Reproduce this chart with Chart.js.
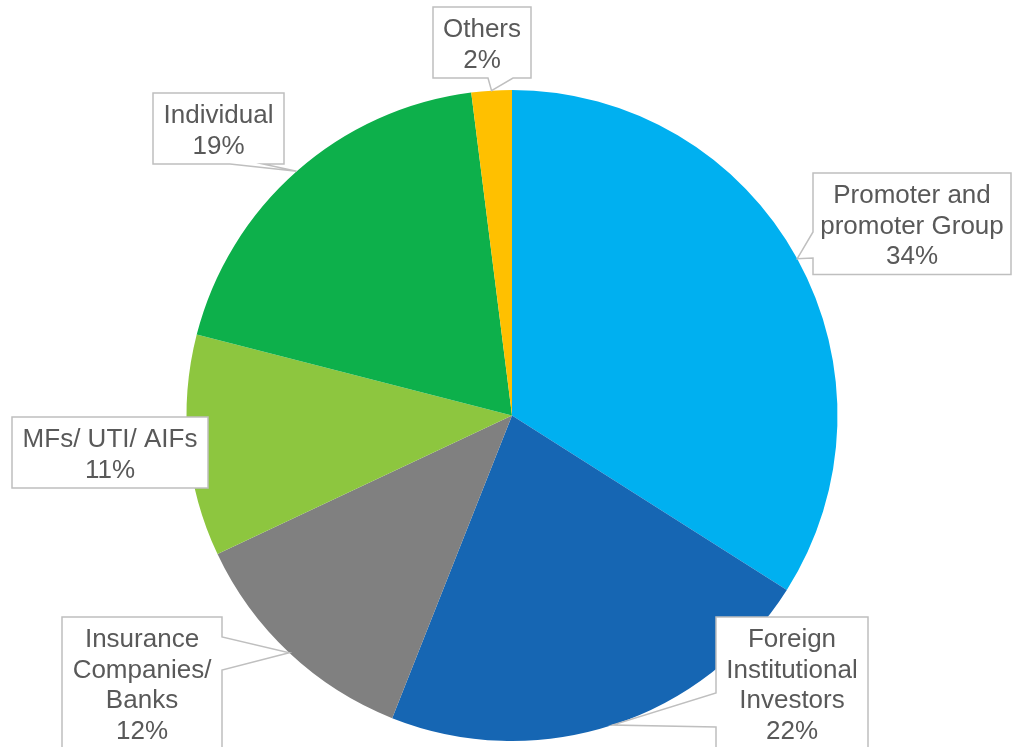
<!DOCTYPE html>
<html>
<head>
<meta charset="utf-8">
<script src="https://cdn.jsdelivr.net/npm/chart.js@4"></script>
<style>
  body { margin: 0; background: #fff; }
  #wrap { width: 1012px; height: 747px; position: relative; }
</style>
</head>
<body>
<div id="wrap"><canvas id="shareholdingChart"></canvas></div>
<script>
// shareholding pattern
const categories = ['Promoter and promoter Group', 'Foreign Institutional Investors', 'Insurance Companies/ Banks', 'MFs/ UTI/ AIFs', 'Individual', 'Others'];
const shares = [34, 22, 12, 11, 19, 2];
const sliceColours = ['#00B0F0', '#1666B3', '#808080', '#8DC63F', '#0DB04B', '#FFC000'];

// callout boxes: rect + which side the pointer leaves from and where its base sits
const callouts = [
  {x: 813, y: 173, w: 198, side: 'left',   base: [232, 258]},
  {x: 716, y: 617, w: 152, side: 'left',   base: [693, 727]},
  {x: 62,  y: 617, w: 160, side: 'right',  base: [637, 670]},
  {x: 12,  y: 417, w: 196, side: 'right',  base: [440, 460]},
  {x: 153, y: 93,  w: 131, side: 'bottom', base: [230, 263]},
  {x: 433, y: 7,   w: 98,  side: 'bottom', base: [488, 513]}
];

const FONT = '26px "Liberation Sans", Arial, sans-serif';
const LINE_H = 30.5;

function wrapText(ctx, text, maxW) {
  const words = text.split(' ');
  const lines = [];
  let cur = '';
  words.forEach(w => {
    const t = cur ? cur + ' ' + w : w;
    if (cur && ctx.measureText(t).width > maxW) { lines.push(cur); cur = w; }
    else cur = t;
  });
  if (cur) lines.push(cur);
  return lines;
}

function calloutPath(ctx, b, h, tip) {
  const l = b.x, t = b.y, r = b.x + b.w, bt = b.y + h;
  const lo = Math.min(b.base[0], b.base[1]), hi = Math.max(b.base[0], b.base[1]);
  const inside = tip.x > l && tip.x < r && tip.y > t && tip.y < bt;
  ctx.beginPath();
  ctx.moveTo(l, t);
  ctx.lineTo(r, t);
  if (b.side === 'right' && !inside) {
    ctx.lineTo(r, lo); ctx.lineTo(tip.x, tip.y); ctx.lineTo(r, hi);
  }
  ctx.lineTo(r, bt);
  if (b.side === 'bottom' && !inside) {
    ctx.lineTo(hi, bt); ctx.lineTo(tip.x, tip.y); ctx.lineTo(lo, bt);
  }
  ctx.lineTo(l, bt);
  if (b.side === 'left' && !inside) {
    ctx.lineTo(l, hi); ctx.lineTo(tip.x, tip.y); ctx.lineTo(l, lo);
  }
  ctx.closePath();
}

const calloutLabels = {
  id: 'calloutLabels',
  afterDatasetsDraw(chart) {
    const ctx = chart.ctx;
    const arcs = chart.getDatasetMeta(0).data;
    ctx.save();
    ctx.font = FONT;
    arcs.forEach((arc, i) => {
      const b = callouts[i];
      const p = arc.getProps(['x', 'y', 'startAngle', 'endAngle', 'outerRadius'], true);
      const mid = (p.startAngle + p.endAngle) / 2;
      const tip = {x: p.x + p.outerRadius * Math.cos(mid), y: p.y + p.outerRadius * Math.sin(mid)};
      const lines = wrapText(ctx, chart.data.labels[i], b.w - 12);
      lines.push(chart.data.datasets[0].data[i] + '%');
      const h = lines.length * LINE_H + 10;
      calloutPath(ctx, b, h, tip);
      ctx.fillStyle = '#FFFFFF';
      ctx.fill();
      ctx.strokeStyle = '#BFBFBF';
      ctx.lineWidth = 1.5;
      ctx.stroke();
      ctx.fillStyle = '#595959';
      ctx.textAlign = 'center';
      ctx.textBaseline = 'alphabetic';
      lines.forEach((ln, k) => {
        ctx.fillText(ln, b.x + b.w / 2, b.y + 30 + k * LINE_H);
      });
    });
    ctx.restore();
  }
};

const shareholdingChart = new Chart(
  document.getElementById('shareholdingChart'),
  {
    type: 'pie',
    data: {
      labels: categories,
      datasets: [{
        data: shares,
        backgroundColor: sliceColours,
        borderWidth: 0
      }]
    },
    options: {
      animation: false,
      responsive: true,
      maintainAspectRatio: false,
      layout: {padding: {top: 90, bottom: 6, left: 12, right: 0}},
      plugins: {
        legend: {display: false},
        tooltip: {enabled: false}
      }
    },
    plugins: [calloutLabels]
  }
);
</script>
</body>
</html>
